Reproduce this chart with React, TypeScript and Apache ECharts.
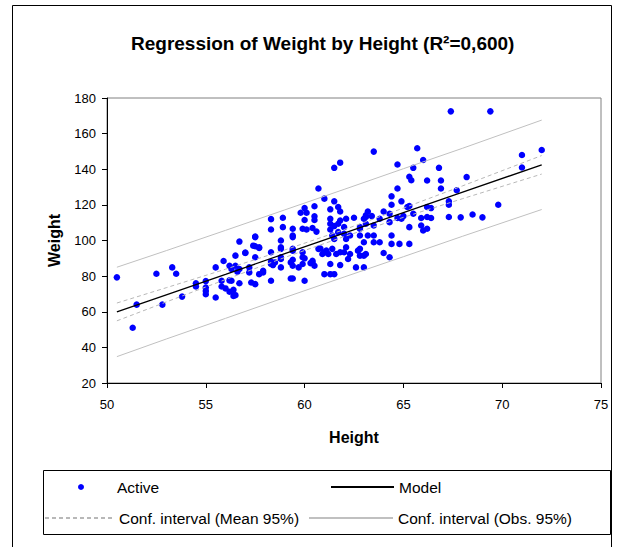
import React, { useEffect, useRef } from "react";
import * as echarts from "echarts";

const titleText = "Regression of Weight by Height (R²=0,600)";
const xTicks = { min: 50, max: 75, interval: 5 };
const yTicks = { min: 20, max: 180, interval: 20 };

// Observations: [Height, Weight]
const heightWeight: number[][] = [
  [50.5, 79.3], [51.3, 51.0], [51.5, 64.0], [52.5, 81.3], [52.8, 64.0], [53.3, 84.9], [53.5, 81.3], [53.8, 68.5],
  [54.5, 76.0], [54.5, 74.2], [55.0, 77.2], [55.0, 73.6], [55.0, 71.7], [55.0, 69.8], [55.5, 84.9], [55.5, 68.0],
  [55.8, 77.4], [55.8, 74.2], [56.0, 73.1], [55.9, 88.5], [56.2, 71.2], [56.4, 68.9], [56.3, 84.0], [56.3, 77.4],
  [56.5, 91.5], [56.6, 82.5], [56.7, 99.4], [57.5, 102.2], [57.0, 93.0], [57.5, 96.8], [57.7, 95.8],
  [61.5, 140.8], [61.8, 143.7], [60.7, 129.2], [61.0, 123.5], [61.5, 122.0], [60.0, 118.2], [60.5, 119.2],
  [59.8, 115.6], [60.1, 115.6], [61.3, 117.5], [61.7, 118.8], [61.8, 116.3], [58.3, 112.0], [58.9, 112.8],
  [60.5, 113.6], [60.0, 111.5], [60.5, 111.5], [61.3, 112.2], [61.3, 109.4], [61.5, 108.1], [61.7, 109.4],
  [61.8, 111.2], [62.1, 112.2], [62.5, 112.8], [63.1, 113.2], [58.3, 106.2], [58.9, 107.5], [59.4, 106.6],
  [59.4, 102.8], [59.9, 106.6], [60.1, 106.2], [60.4, 107.0], [60.6, 105.0], [61.3, 106.2], [61.4, 102.8],
  [61.5, 100.9], [61.7, 104.7], [62.0, 107.5], [62.0, 103.7], [62.1, 100.9], [62.3, 102.8], [62.8, 106.6],
  [63.1, 109.4], [57.5, 101.9], [57.4, 97.1], [57.7, 96.2], [57.0, 93.2], [57.5, 90.6], [58.3, 93.4],
  [58.8, 95.3], [58.8, 100.0], [59.4, 101.9], [59.4, 95.3], [58.3, 88.1], [58.4, 86.2], [58.8, 90.6],
  [59.3, 87.7], [59.4, 89.2], [59.9, 93.4], [60.0, 90.0], [60.3, 87.3], [60.4, 88.6], [60.7, 95.3],
  [61.0, 93.4], [61.2, 92.4], [61.3, 86.8], [61.8, 86.2], [61.5, 81.1], [61.0, 81.1], [61.3, 81.1],
  [62.2, 89.6], [62.6, 84.9], [63.0, 84.9], [63.1, 92.4], [62.8, 95.3], [56.2, 85.8], [56.5, 85.8],
  [56.7, 84.0], [57.2, 84.9], [57.2, 82.1], [57.7, 81.1], [57.9, 82.1], [58.3, 77.4], [59.3, 78.7],
  [59.4, 78.7], [60.0, 77.4], [56.7, 76.0], [57.3, 76.4], [57.5, 75.5], [56.2, 77.6], [56.4, 72.3],
  [56.5, 69.3], [57.9, 83.0], [58.3, 86.8], [58.5, 87.7], [58.8, 84.9], [59.4, 85.8], [59.7, 84.9],
  [59.9, 86.8], [60.4, 87.7], [60.5, 85.8], [58.8, 96.2], [59.4, 94.3], [59.9, 90.6], [58.8, 89.6],
  [60.8, 95.5], [60.9, 92.4], [61.1, 94.3], [61.4, 95.3], [61.6, 92.4], [61.8, 93.4], [62.0, 93.4],
  [62.1, 96.2], [62.3, 92.4], [62.7, 94.3], [62.8, 91.5],
  [63.5, 149.9], [65.7, 151.8], [66.0, 145.2], [64.7, 142.7], [65.5, 140.8], [66.8, 140.8], [68.2, 135.6],
  [65.3, 135.8], [65.4, 133.8], [66.2, 133.7], [66.9, 133.7], [64.7, 129.2], [66.9, 129.2], [67.7, 128.2],
  [64.4, 124.8], [64.9, 122.0], [64.4, 120.1], [65.2, 118.8], [65.3, 119.4], [67.3, 122.0], [67.3, 120.1],
  [66.2, 118.8], [66.4, 118.2], [66.2, 113.2], [66.4, 112.6], [65.9, 112.6], [67.3, 113.2], [67.9, 113.0],
  [68.5, 114.6], [69.0, 113.0], [69.8, 120.1], [65.5, 115.0], [65.0, 113.7], [64.7, 112.6], [64.9, 112.2],
  [64.3, 115.0], [64.0, 116.3], [63.2, 116.3], [63.1, 114.1], [63.0, 112.2], [63.4, 113.7], [63.8, 112.2],
  [64.3, 110.3], [65.3, 107.5], [65.9, 108.4], [66.0, 105.6], [66.2, 106.6], [62.8, 107.5], [63.5, 108.4],
  [62.8, 102.8], [63.2, 102.8], [63.5, 102.8], [63.0, 99.0], [63.5, 99.0], [63.8, 99.0], [64.4, 102.8],
  [64.4, 98.1], [64.8, 98.1], [65.3, 98.1], [63.0, 91.5], [64.0, 93.0], [64.3, 90.6],
  [67.4, 172.5], [69.4, 172.5], [71.0, 148.0], [72.0, 150.8], [71.0, 141.0],
];

// Model and confidence bands, read at these heights
const bandX = [50.5, 53, 56, 59, 62, 65, 68, 72];
const modelY = [59.9, 69.5, 81.0, 92.6, 104.1, 115.6, 127.1, 142.5];
const meanUpper = [64.9, 73.5, 83.9, 94.7, 106.1, 118.2, 130.7, 147.7];
const meanLower = [54.9, 65.5, 78.1, 90.5, 102.2, 113.0, 123.5, 137.3];
const obsUpper = [85.0, 94.3, 105.7, 117.2, 128.7, 140.3, 151.8, 167.6];
const obsLower = [34.8, 44.7, 56.3, 68.0, 79.5, 90.9, 102.4, 117.4];

const seriesNames = {
  active: "Active",
  model: "Model",
  mean: "Conf. interval (Mean 95%)",
  obs: "Conf. interval (Obs. 95%)",
};

const FONT = "Liberation Sans, Arial, sans-serif";

export default function App() {
  const ref = useRef<HTMLDivElement>(null);

  useEffect(() => {
    if (!ref.current) return;
    const chart = echarts.init(ref.current, null, { renderer: "svg" });
    const pair = (ys: number[]) => bandX.map((x, i) => [x, ys[i]]);
    const legendText = { fontFamily: FONT, fontSize: 15.5, color: "#000" };
    const lineBase = { type: "line", symbol: "none", showSymbol: false, silent: true };
    const hiddenSymbol = { opacity: 0 };

    chart.setOption({
      animation: false,
      backgroundColor: "#fff",
      textStyle: { fontFamily: FONT },
      title: {
        text: titleText,
        left: 131,
        top: 34,
        padding: 0,
        textStyle: { fontFamily: FONT, fontSize: 19, fontWeight: "bold", color: "#000" },
      },
      grid: { left: 107, right: 21, top: 98, bottom: 164, show: true, borderColor: "#808080", borderWidth: 1 },
      xAxis: {
        type: "value",
        ...xTicks,
        axisLine: { show: true, lineStyle: { color: "#000", width: 1 } },
        axisTick: { show: true, length: 5, lineStyle: { color: "#000" } },
        axisLabel: { fontFamily: FONT, fontSize: 13, color: "#000", margin: 15 },
        splitLine: { show: false },
        name: "Height",
        nameLocation: "middle",
        nameGap: 46,
        nameTextStyle: { fontFamily: FONT, fontSize: 16, fontWeight: "bold", color: "#000" },
      },
      yAxis: {
        type: "value",
        ...yTicks,
        axisLine: { show: true, lineStyle: { color: "#000", width: 1 } },
        axisTick: { show: true, length: 5, lineStyle: { color: "#000" } },
        axisLabel: { fontFamily: FONT, fontSize: 13, color: "#000", margin: 11 },
        splitLine: { show: false },
        name: "Weight",
        nameLocation: "middle",
        nameGap: 45,
        nameTextStyle: { fontFamily: FONT, fontSize: 16, fontWeight: "bold", color: "#000" },
      },
      legend: [
        {
          data: [seriesNames.active], left: 78, top: 479, padding: 0, itemWidth: 6, itemHeight: 6,
          textStyle: { ...legendText, padding: [0, 0, 0, 28] }, selectedMode: false,
        },
        { data: [seriesNames.model], left: 330, top: 479, padding: 0, itemWidth: 63, itemHeight: 14, itemStyle: hiddenSymbol, textStyle: legendText, selectedMode: false },
        { data: [seriesNames.mean], left: 44, top: 510, padding: 0, itemWidth: 69, itemHeight: 14, itemStyle: hiddenSymbol, textStyle: legendText, selectedMode: false },
        { data: [seriesNames.obs], left: 308, top: 510, padding: 0, itemWidth: 84, itemHeight: 14, itemStyle: hiddenSymbol, textStyle: legendText, selectedMode: false },
      ],
      graphic: [
        { type: "rect", silent: true, shape: { x: 12.5, y: 5.5, width: 599, height: 600 }, style: { fill: "none", stroke: "#000", lineWidth: 1 } },
        { type: "rect", silent: true, shape: { x: 43.5, y: 470.5, width: 567, height: 64 }, style: { fill: "none", stroke: "#000", lineWidth: 1 } },
      ],
      series: [
        {
          name: seriesNames.active,
          type: "scatter",
          data: heightWeight,
          symbol: "circle",
          symbolSize: 6.5,
          itemStyle: { color: "#0000ff", opacity: 1 },
          z: 2,
        },
        { ...lineBase, name: seriesNames.obs, data: pair(obsUpper), lineStyle: { color: "#c0c0c0", width: 1 }, z: 3 },
        { ...lineBase, name: seriesNames.obs, data: pair(obsLower), lineStyle: { color: "#c0c0c0", width: 1 }, z: 3 },
        { ...lineBase, name: seriesNames.mean, data: pair(meanUpper), lineStyle: { color: "#b8b8b8", width: 1, type: [4, 3] }, z: 3 },
        { ...lineBase, name: seriesNames.mean, data: pair(meanLower), lineStyle: { color: "#b8b8b8", width: 1, type: [4, 3] }, z: 3 },
        { ...lineBase, name: seriesNames.model, data: pair(modelY), lineStyle: { color: "#000", width: 1.3 }, z: 4 },
      ],
    });

    return () => chart.dispose();
  }, []);

  return <div ref={ref} style={{ position: "fixed", left: 0, top: 0, width: 622, height: 547 }} />;
}
